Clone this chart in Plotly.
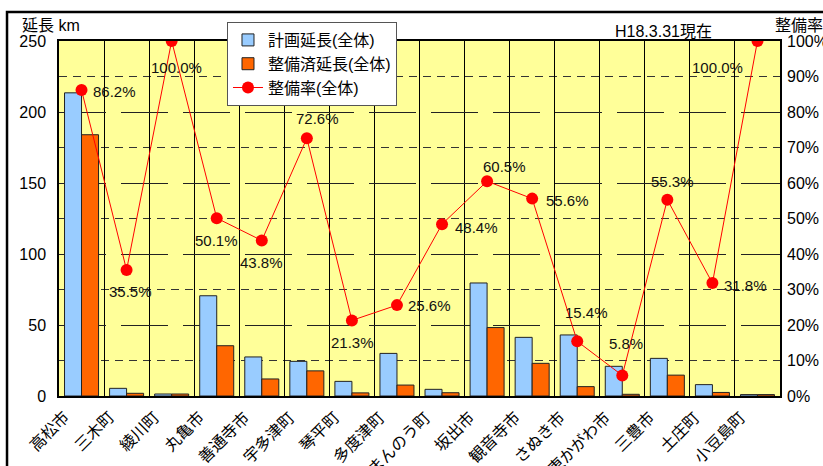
import plotly.graph_objects as go

# 市町別の道路延長と整備率（H18.3.31現在）
towns = ["高松市", "三木町", "綾川町", "丸亀市", "善通寺市", "宇多津町", "琴平町", "多度津町",
         "まんのう町", "坂出市", "観音寺市", "さぬき市", "東かがわ市", "三豊市", "土庄町", "小豆島町"]
planned_km = [213.5, 5.4, 1.4, 70.6, 27.5, 24.4, 10.3, 30.0, 4.7, 79.6, 41.3, 43.0, 20.9, 26.5, 8.0, 1.0]
built_km = [184.0, 1.9, 1.4, 35.4, 12.0, 17.7, 2.2, 7.7, 2.3, 48.2, 23.0, 6.6, 1.2, 14.7, 2.5, 1.0]
rate_pct = [86.2, 35.5, 100.0, 50.1, 43.8, 72.6, 21.3, 25.6, 48.4, 60.5, 55.6, 15.4, 5.8, 55.3, 31.8, 100.0]

# label offsets (px) for each rate value
label_dx = [33, 4, 5, 0, 0, 11, 1, 33, 34, 17, 35, 9, 4, 5, 33, -40]
label_dy = [-2, -22, -26, -22, -22, 20, -22, 0, -3, 15, -2, 29, 32, 18, -2, -26]

FONT = "Arial, 'Liberation Sans', 'Noto Sans CJK JP', sans-serif"
CAT_FONT = 16

fig = go.Figure()
fig.add_trace(go.Bar(
    x=towns, y=planned_km, name="計画延長(全体)",
    marker=dict(color="#99CCFF", line=dict(color="#222222", width=1)),
))
fig.add_trace(go.Bar(
    x=towns, y=built_km, name="整備済延長(全体)",
    marker=dict(color="#FF6600", line=dict(color="#222222", width=1)),
))
fig.add_trace(go.Scatter(
    x=towns, y=rate_pct, name="整備率(全体)", yaxis="y2", mode="lines+markers",
    line=dict(color="#FF0000", width=1),
    marker=dict(color="#FF0000", size=12),
))

for t, v, dx, dy in zip(towns, rate_pct, label_dx, label_dy):
    fig.add_annotation(
        x=t, y=v, yref="y2", text=f"{v:.1f}%", showarrow=False,
        xshift=dx, yshift=dy, font=dict(size=15, color="#111111", family=FONT),
    )

# slanted category labels: the upper end of each label sits left of, and below, its category
for t in towns:
    half = 0.354 * len(t) * CAT_FONT
    fig.add_annotation(
        x=t, xref="x", y=0, yref="paper", text=t, showarrow=False, textangle=-45,
        xanchor="center", yanchor="middle",
        xshift=-15 - half, yshift=-(19 + half),
        font=dict(size=CAT_FONT, color="black", family=FONT),
    )

# axis titles and date note
fig.add_annotation(xref="paper", yref="paper", x=-0.054, y=1.045, xanchor="left", yanchor="middle",
                   text="延長 km", showarrow=False, font=dict(size=16, color="black", family=FONT))
fig.add_annotation(xref="paper", yref="paper", x=0.990, y=1.045, xanchor="left", yanchor="middle",
                   text="整備率", showarrow=False, font=dict(size=16, color="black", family=FONT))
fig.add_annotation(xref="paper", yref="paper", x=0.838, y=1.028, xanchor="center", yanchor="middle",
                   text="H18.3.31現在", showarrow=False, font=dict(size=16, color="black", family=FONT))

# outer chart frame
fig.add_shape(type="rect", xref="paper", yref="paper",
              x0=-0.0721, y0=-0.25, x1=1.1, y1=1.0817,
              line=dict(color="black", width=2.5), fillcolor="rgba(0,0,0,0)", layer="above")

fig.update_layout(
    width=823, height=466,
    margin=dict(l=59, r=43, t=41, b=70),
    paper_bgcolor="white", plot_bgcolor="#FFFF99",
    font=dict(family=FONT, size=15, color="black"),
    barmode="group", bargap=0.245, bargroupgap=0,
    showlegend=True,
    legend=dict(x=0.233, y=1.0535, xanchor="left", yanchor="top",
                bgcolor="white", bordercolor="#555555", borderwidth=1,
                font=dict(size=16, family=FONT), tracegroupgap=0),
    xaxis=dict(
        type="category", range=[-0.5, len(towns) - 0.5], autorange=False,
        tickson="boundaries", showgrid=True, gridcolor="black", gridwidth=1,
        showticklabels=False, ticks="", automargin=False,
        showline=True, linecolor="black", linewidth=2, mirror=True,
    ),
    yaxis=dict(
        range=[0, 250], dtick=50, tickfont=dict(size=16), ticks="", automargin=False,
        showgrid=True, gridcolor="#222222", gridwidth=1, griddash="47px,15px",
        minor=dict(dtick=25, showgrid=True, gridcolor="#333333", gridwidth=1, griddash="8px,6px"),
        showline=True, linecolor="black", linewidth=1.5, mirror=True,
        zeroline=False, ticklabelstandoff=8,
    ),
    yaxis2=dict(
        range=[0, 100], dtick=10, ticksuffix="%", overlaying="y", side="right",
        showgrid=False, zeroline=False, tickfont=dict(size=16), ticks="", automargin=False,
        ticklabelstandoff=6,
    ),
)

fig.write_html("out.html")
